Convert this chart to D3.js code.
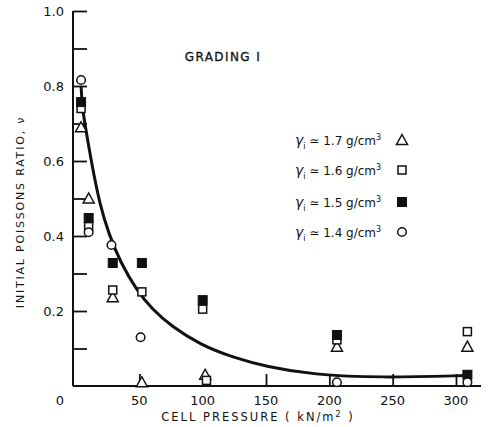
<!DOCTYPE html>
<html>
<head>
<meta charset="utf-8">
<script src="https://cdn.jsdelivr.net/npm/d3@7"></script>
<style>
  body { margin: 0; background: white; }
  text { font-family: "DejaVu Sans", sans-serif; fill: #111; }
</style>
</head>
<body>
<div id="chart"></div>
<script>
// values (cell pressure kN/m2, initial poissons ratio)
var triangle17 = [[4, 0.69], [10, 0.50], [29, 0.237], [52, 0.01], [102, 0.03], [206, 0.105], [309, 0.105]];
var square16 = [[4, 0.74], [10, 0.425], [29, 0.256], [52, 0.251], [100, 0.205], [103, 0.015], [206, 0.123], [309, 0.145]];
var filled15 = [[4, 0.757], [10, 0.448], [29, 0.328], [52, 0.328], [100, 0.229], [206, 0.136], [309, 0.03]];
var circle14 = [[4, 0.816], [10, 0.41], [28, 0.376], [51, 0.13], [206, 0.01], [309, 0.01]];
var fitCurve = [[4, 0.80], [5, 0.74], [8, 0.68], [12, 0.60], [19, 0.48], [26, 0.405], [35, 0.33], [48, 0.255],
                [60, 0.205], [75, 0.16], [98, 0.11], [125, 0.075], [150, 0.052], [187, 0.03], [240, 0.022], [309, 0.028]];
var xTickValues = [50, 100, 150, 200, 250, 300];
var xTickLabels = [0, 50, 100, 150, 200, 250, 300];
var yTickValues = [0.1, 0.2, 0.3, 0.4, 0.5, 0.6, 0.7, 0.8, 0.9, 1.0];
var yTickLabels = [0.2, 0.4, 0.6, 0.8, 1.0];
var legendLabels = ["1.7", "1.6", "1.5", "1.4"];

var width = 489, height = 427;

var svg = d3.select("#chart")
  .append("svg")
    .attr("width", width)
    .attr("height", height);

var x = d3.scaleLinear().domain([0, 300]).range([76, 456]);
var y = d3.scaleLinear().domain([0, 1]).range([386, 11]);

// axis lines
svg.append("line")
  .attr("x1", 73).attr("x2", 481)
  .attr("y1", y(0)).attr("y2", y(0))
  .style("stroke", "#111").style("stroke-width", 2);
svg.append("line")
  .attr("x1", 73).attr("x2", 73)
  .attr("y1", y(0)).attr("y2", y(1))
  .style("stroke", "#111").style("stroke-width", 2);

// ticks point inward
var yAxis = svg.append("g")
  .attr("transform", "translate(73,0)")
  .call(d3.axisLeft(y).tickValues(yTickValues).tickSize(-14).tickFormat(""));
yAxis.select(".domain").remove();
yAxis.selectAll("line").style("stroke", "#111").style("stroke-width", 1.8);

var xAxis = svg.append("g")
  .attr("transform", "translate(0," + y(0) + ")")
  .call(d3.axisBottom(x).tickValues(xTickValues).tickSize(-12).tickFormat(""));
xAxis.select(".domain").remove();
xAxis.selectAll("line").style("stroke", "#111").style("stroke-width", 1.8);

// tick labels
svg.selectAll(".ylab")
  .data(yTickLabels)
  .enter()
  .append("text")
    .attr("x", 64)
    .attr("y", function(d) { return y(d) + 5; })
    .attr("text-anchor", "end")
    .style("font-size", "13px")
    .text(function(d) { return d.toFixed(1); });

svg.selectAll(".xlab")
  .data(xTickLabels)
  .enter()
  .append("text")
    .attr("x", function(d) { return d == 0 ? x(d) - 16 : x(d); })
    .attr("y", 405)
    .attr("text-anchor", "middle")
    .style("font-size", "13px")
    .text(function(d) { return d; });

// axis titles
svg.append("text")
  .attr("x", 258).attr("y", 421)
  .attr("text-anchor", "middle")
  .style("font-size", "11.5px")
  .style("letter-spacing", "2px")
  .html("CELL PRESSURE ( kN/m<tspan dy='-4' font-size='8px'>2</tspan><tspan dy='4'> )</tspan>");

svg.append("text")
  .attr("transform", "translate(24,212) rotate(-90)")
  .attr("text-anchor", "middle")
  .style("font-size", "11px")
  .style("letter-spacing", "1.8px")
  .text("INITIAL POISSONS RATIO, ν");

svg.append("text")
  .attr("x", 223).attr("y", 61)
  .attr("text-anchor", "middle")
  .style("font-size", "12px")
  .style("letter-spacing", "1.4px")
  .style("stroke", "#111")
  .style("stroke-width", 0.3)
  .text("GRADING  I");

// fitted curve
var line = d3.line()
  .x(function(d) { return x(d[0]); })
  .y(function(d) { return y(d[1]); })
  .curve(d3.curveBasis);

svg.append("path")
  .datum(fitCurve)
  .attr("d", line)
  .style("fill", "none")
  .style("stroke", "#111")
  .style("stroke-width", 3);

// marker drawing
function drawMarker(g, type, cx, cy) {
  if (type == "tri") {
    g.append("path")
      .attr("d", "M" + cx + "," + (cy - 5.5) + "L" + (cx + 5.5) + "," + (cy + 4.5) + "L" + (cx - 5.5) + "," + (cy + 4.5) + "Z")
      .style("fill", "white").style("stroke", "#111").style("stroke-width", 1.5);
  } else if (type == "sq") {
    g.append("rect")
      .attr("x", cx - 4).attr("y", cy - 4).attr("width", 8).attr("height", 8)
      .style("fill", "white").style("stroke", "#111").style("stroke-width", 1.5);
  } else if (type == "fsq") {
    g.append("rect")
      .attr("x", cx - 4.5).attr("y", cy - 4.5).attr("width", 9).attr("height", 9)
      .style("fill", "#111").style("stroke", "#111").style("stroke-width", 1);
  } else {
    g.append("circle")
      .attr("cx", cx).attr("cy", cy).attr("r", 4.3)
      .style("fill", "white").style("stroke", "#111").style("stroke-width", 1.5);
  }
}

var series = [
  { type: "tri", data: triangle17 },
  { type: "sq", data: square16 },
  { type: "fsq", data: filled15 },
  { type: "circ", data: circle14 }
];

var marks = svg.append("g");
series.forEach(function(s) {
  s.data.forEach(function(d) {
    drawMarker(marks, s.type, x(d[0]), y(d[1]));
  });
});

// legend
var legendY = [140, 170, 202, 232];
legendLabels.forEach(function(lab, i) {
  var t = svg.append("text")
    .attr("x", 295).attr("y", legendY[i] + 5)
    .style("font-size", "12px");
  t.append("tspan").style("font-style", "italic").style("font-size", "14px").text("γ");
  t.append("tspan").attr("dy", 4).style("font-size", "8px").text("i");
  t.append("tspan").attr("dy", -4).text(" ≃ " + lab + " g/cm");
  t.append("tspan").attr("dy", -5).style("font-size", "8px").text("3");
  drawMarker(svg, series[i].type, 402, legendY[i]);
});
</script>
</body>
</html>
